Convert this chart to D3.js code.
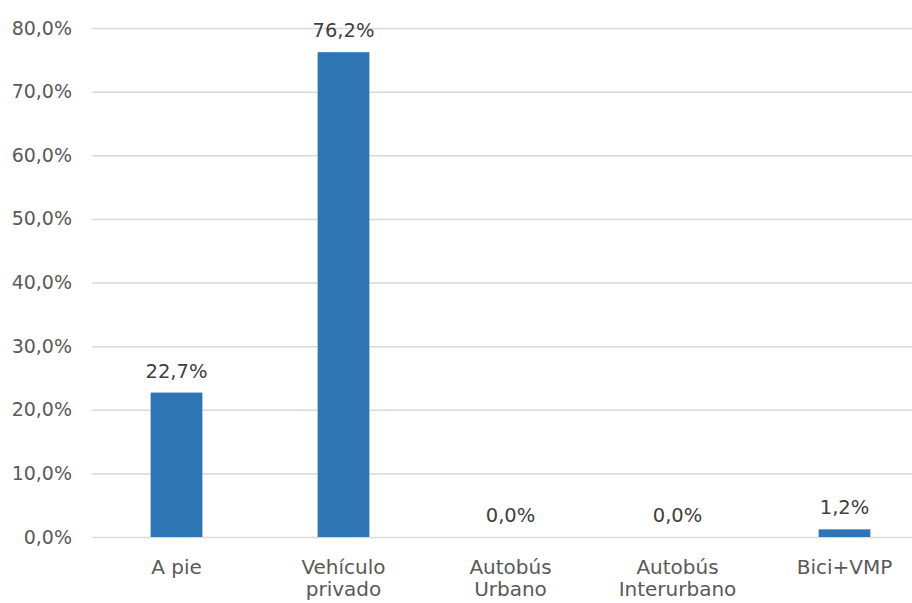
<!DOCTYPE html>
<html><head><meta charset="utf-8">
<script src="https://cdn.jsdelivr.net/npm/d3@7"></script>
<style>body{margin:0;background:#fff}svg{display:block}</style>
</head><body>
<svg id="c" width="912" height="603"></svg>
<script>
const categories = [["A pie"], ["Vehículo", "privado"], ["Autobús", "Urbano"], ["Autobús", "Interurbano"], ["Bici+VMP"]];
const values = [22.7, 76.2, 0.0, 0.0, 1.2];
const valueLabels = ["22,7%", "76,2%", "0,0%", "0,0%", "1,2%"];
const yTicks = [0, 10, 20, 30, 40, 50, 60, 70, 80];
const yTickLabels = ["0,0%", "10,0%", "20,0%", "30,0%", "40,0%", "50,0%", "60,0%", "70,0%", "80,0%"];

const svg = d3.select("#c");
const font = "'DejaVu Sans', sans-serif";
const x = d3.scaleBand().domain(d3.range(values.length)).range([93, 928]).paddingInner(0.69).paddingOuter(0.345);
const y = d3.scaleLinear().domain([0, 80]).range([537, 28]);

const yAxis = d3.axisLeft(y).tickValues(yTicks).tickFormat((d, i) => yTickLabels[i]).tickSize(-(928 - 92)).tickPadding(20);
const gy = svg.append("g").attr("transform", "translate(92,0)").call(yAxis);
gy.select(".domain").remove();
gy.selectAll(".tick line").attr("stroke", "#d9d9d9").attr("stroke-width", 1.5);
gy.selectAll(".tick text").attr("fill", "#595959").attr("font-family", font).attr("font-size", 19);

svg.append("g").selectAll("rect").data(values).join("rect")
  .attr("x", (d, i) => x(i)).attr("width", x.bandwidth())
  .attr("y", d => y(d)).attr("height", d => y(0) - y(d))
  .attr("fill", "#2e75b6");

svg.append("g").selectAll("text").data(values).join("text")
  .attr("x", (d, i) => x(i) + x.bandwidth() / 2)
  .attr("y", d => y(d) - 15)
  .attr("text-anchor", "middle").attr("fill", "#404040")
  .attr("font-family", font).attr("font-size", 19.5)
  .text((d, i) => valueLabels[i]);

const cat = svg.append("g").selectAll("text").data(categories).join("text")
  .attr("x", (d, i) => x(i) + x.bandwidth() / 2)
  .attr("y", 574)
  .attr("text-anchor", "middle").attr("fill", "#595959")
  .attr("font-family", font).attr("font-size", 20);
cat.selectAll("tspan").data(d => d).join("tspan")
  .attr("x", function () { return d3.select(this.parentNode).attr("x"); })
  .attr("dy", (d, j) => j === 0 ? 0 : 22)
  .text(d => d);
</script>
</body></html>
